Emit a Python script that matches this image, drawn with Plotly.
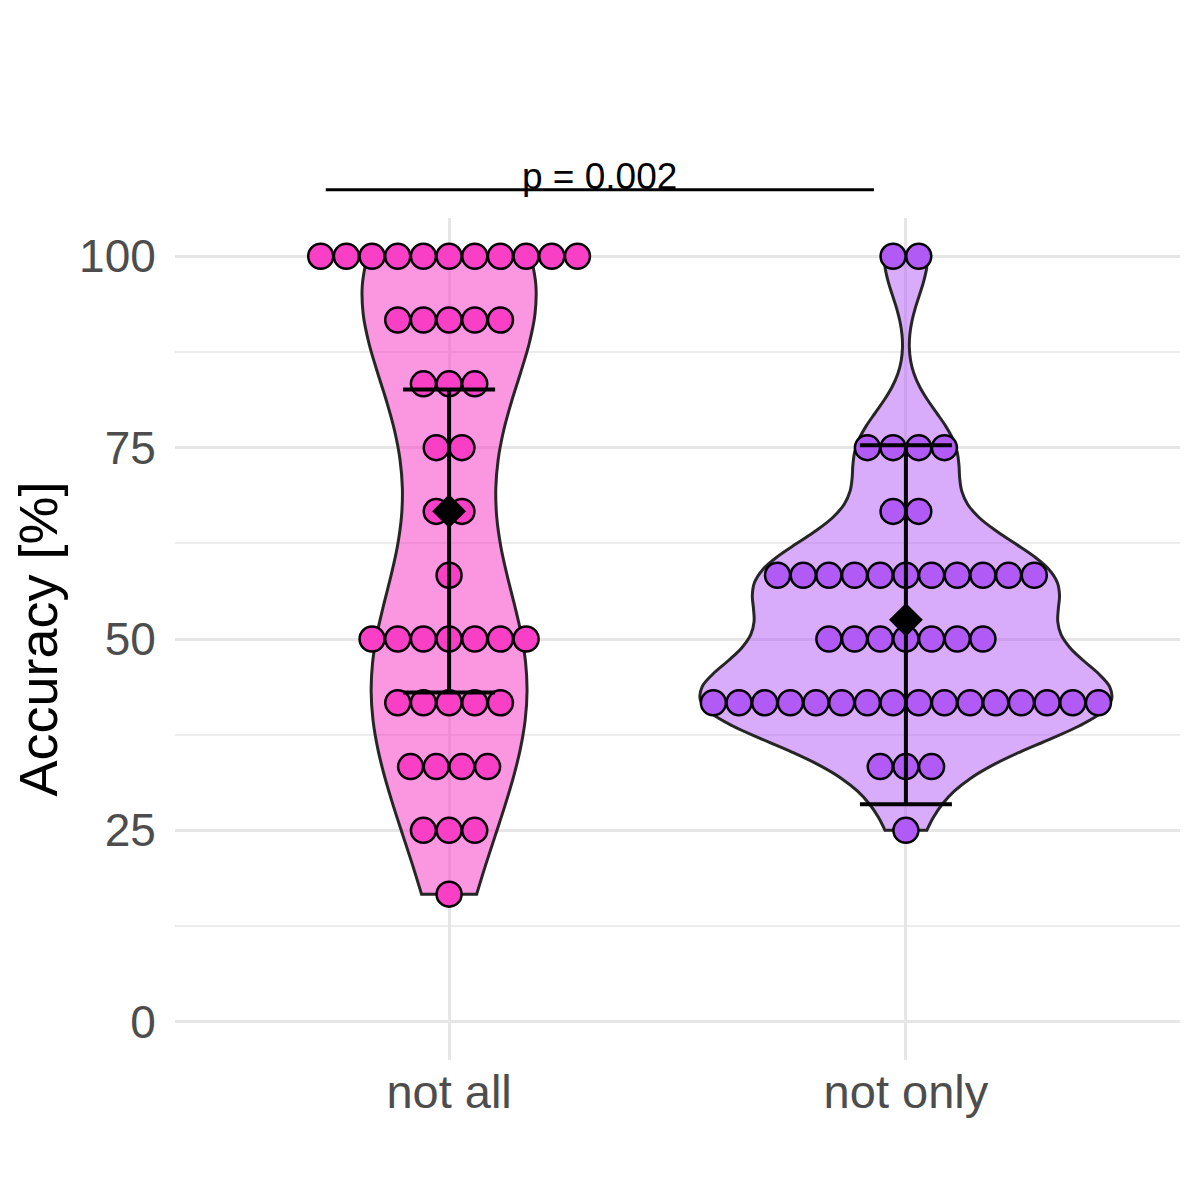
import numpy as np
import plotly.graph_objects as go

# data
groups = ["not all", "not only"]
acc_levels = [16.67, 25.0, 33.33, 41.67, 50.0, 58.33, 66.67, 75.0, 83.33, 91.67, 100.0]
counts_not_all = [1, 3, 4, 5, 7, 1, 2, 2, 3, 5, 11]
counts_not_only = [0, 1, 3, 16, 7, 11, 2, 4, 0, 0, 2]
group_means = [66.7, 52.5]
bar_low = [43.0, 28.4]
bar_high = [82.6, 75.3]
y_ticks = [0, 25, 50, 75, 100]
p_label = "p = 0.002"
bracket_x = [-0.27, 0.93]
bracket_y = 108.7

dot_colors = ["#F83FC6", "#B25AF5"]
fill_colors = ["rgba(248,63,198,0.55)", "rgba(178,90,245,0.5)"]
violin_widths = [0.38, 0.9]
dot_step = 0.0562
font_family = "Liberation Sans, Arial, Helvetica, sans-serif"
y_range = [-5, 105]


def bw_nrd0(v):
    # same rule ggplot's geom_violin uses by default
    v = np.asarray(v, dtype=float)
    q1, q3 = np.percentile(v, [25, 75])
    lo = min(np.std(v, ddof=1), (q3 - q1) / 1.34)
    return 0.9 * lo * len(v) ** -0.2


fig = go.Figure()

all_counts = [counts_not_all, counts_not_only]
for i, counts in enumerate(all_counts):
    vals = np.repeat(acc_levels, counts)
    fig.add_trace(go.Violin(
        y=vals, x0=i, name=groups[i],
        fillcolor=fill_colors[i],
        line=dict(color="#262626", width=3),
        points=False, box_visible=False, meanline_visible=False,
        spanmode="hard", bandwidth=bw_nrd0(vals),
        scalemode="width", width=violin_widths[i],
        hoverinfo="skip", showlegend=False,
    ))

for i, counts in enumerate(all_counts):
    xs, ys = [], []
    for lev, n in zip(acc_levels, counts):
        for k in range(n):
            xs.append(i + (k - (n - 1) / 2) * dot_step)
            ys.append(lev)
    fig.add_trace(go.Scatter(
        x=xs, y=ys, mode="markers",
        marker=dict(size=25, color=dot_colors[i], line=dict(color="black", width=2.5)),
        showlegend=False, hoverinfo="y",
    ))

means = np.array(group_means)
fig.add_trace(go.Scatter(
    x=list(range(len(groups))), y=group_means, mode="markers",
    marker=dict(symbol="diamond", size=26, color="black"),
    error_y=dict(type="data", symmetric=False,
                 array=np.array(bar_high) - means,
                 arrayminus=means - np.array(bar_low),
                 thickness=4, width=46, color="black"),
    showlegend=False,
))

py = (bracket_y - y_range[0]) / (y_range[1] - y_range[0])
fig.add_shape(type="line", xref="x", yref="paper",
              x0=bracket_x[0], x1=bracket_x[1], y0=py, y1=py,
              line=dict(color="black", width=3))
fig.add_annotation(text=p_label, x=sum(bracket_x) / 2, xref="x",
                   y=py, yref="paper", yanchor="bottom", yshift=-9,
                   showarrow=False, font=dict(size=37, color="black", family=font_family))

fig.update_layout(
    width=1200, height=1200,
    margin=dict(l=167, r=28, t=210, b=148),
    plot_bgcolor="white", paper_bgcolor="white",
    violinmode="overlay",
    font=dict(family=font_family, color="#4d4d4d"),
    xaxis=dict(
        type="linear", range=[-0.6, 1.6],
        tickvals=list(range(len(groups))), ticktext=groups,
        tickfont=dict(size=47, color="#4d4d4d"),
        ticks="",
        showgrid=True, gridcolor="#e6e6e6", gridwidth=3,
        zeroline=False, showline=False,
    ),
    yaxis=dict(
        range=y_range, tickvals=y_ticks,
        tickfont=dict(size=46, color="#4d4d4d"),
        ticks="outside", ticklen=9, tickcolor="rgba(0,0,0,0)",
        showgrid=True, gridcolor="#e6e6e6", gridwidth=3,
        minor=dict(dtick=12.5, tick0=12.5, showgrid=True, gridcolor="#ececec", gridwidth=2),
        zeroline=False, showline=False,
        title=dict(text="Accuracy [%]", font=dict(size=54, color="black"), standoff=19),
    ),
)

fig.write_html("out.html")
